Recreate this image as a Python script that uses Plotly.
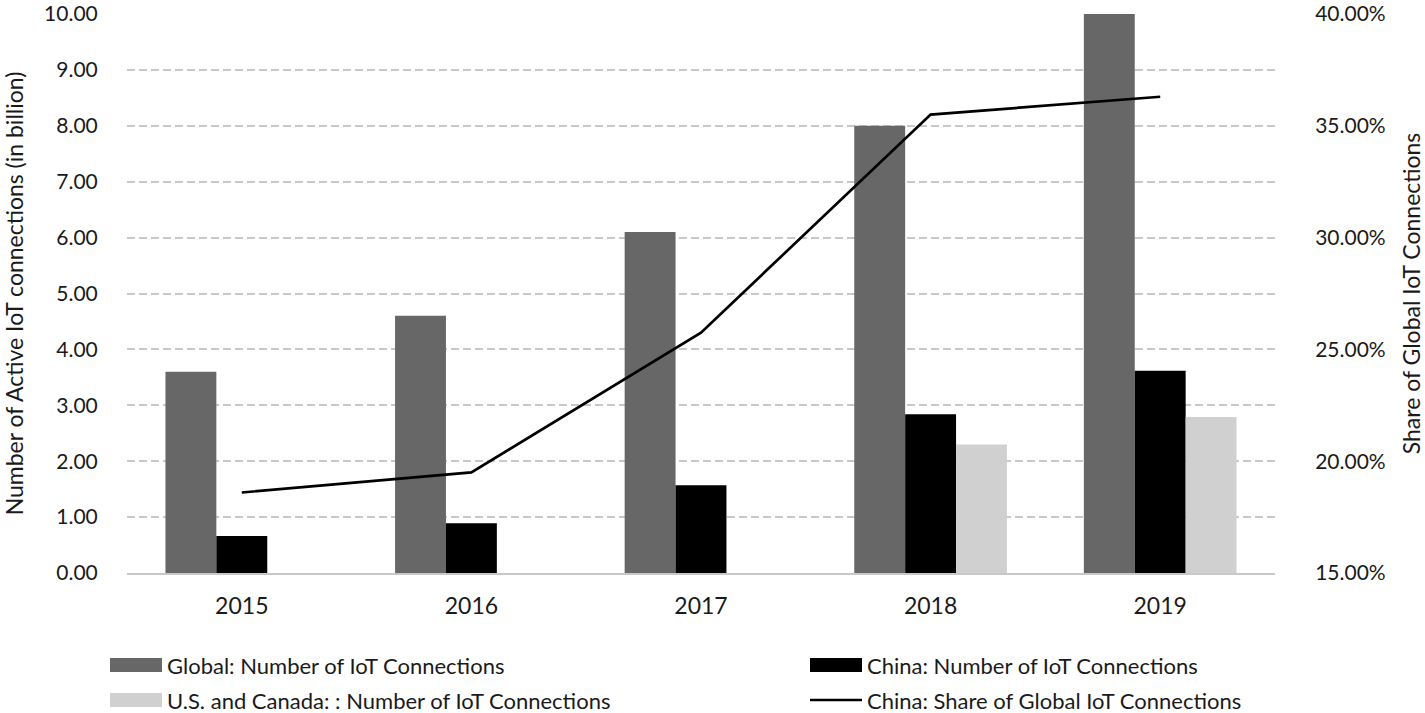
import plotly.graph_objects as go

years = ["2015", "2016", "2017", "2018", "2019"]
global_conn = [3.6, 4.6, 6.1, 8.0, 10.0]
china_conn = [0.66, 0.89, 1.57, 2.84, 3.62]
us_canada_conn = [None, None, None, 2.30, 2.79]
china_share = [18.6, 19.5, 25.75, 35.5, 36.3]

names = ["Global: Number of IoT Connections",
         "China: Number of IoT Connections",
         "U.S. and Canada: : Number of IoT Connections",
         "China: Share of Global IoT Connections"]
colors = ["#676767", "#000000", "#d0d0d0", "#000000"]

FONT = "Lato"
FS = 23
FS_LEG = 22
FS_Y = 21
TXT = "#1a1a1a"

W, H = 1425, 713
ML, MR, MT, MB = 127, 150, 14, 140
PW, PH = W - ML - MR, H - MT - MB

fig = go.Figure()
fig.add_trace(go.Bar(x=years, y=global_conn, name=names[0],
                     marker=dict(color=colors[0], line=dict(width=0))))
fig.add_trace(go.Bar(x=years, y=china_conn, name=names[1],
                     marker=dict(color=colors[1], line=dict(width=0))))
fig.add_trace(go.Bar(x=years, y=us_canada_conn, name=names[2],
                     marker=dict(color=colors[2], line=dict(width=0))))
fig.add_trace(go.Scatter(x=years, y=china_share, name=names[3],
                         mode="lines", line=dict(color=colors[3], width=2.7), yaxis="y2"))

# legend drawn as keys + labels below the plot (two columns)
def px_x(px):
    return (px - ML) / PW

def px_y(py):
    return (H - MB - py) / PH

legend_pos = [(110, 665), (810, 665), (110, 700), (810, 700)]
shapes = []
annotations = []
for i, (name, col) in enumerate(zip(names, colors)):
    lx, ly = legend_pos[i]
    if i < 3:
        shapes.append(dict(type="rect", xref="paper", yref="paper",
                           x0=px_x(lx), x1=px_x(lx + 52), y0=px_y(ly + 7), y1=px_y(ly - 7),
                           fillcolor=col, line=dict(width=0)))
    else:
        shapes.append(dict(type="line", xref="paper", yref="paper",
                           x0=px_x(lx), x1=px_x(lx + 52), y0=px_y(ly), y1=px_y(ly),
                           line=dict(color=col, width=2.5)))
    annotations.append(dict(text=name, xref="paper", yref="paper",
                            x=px_x(lx + 55), y=px_y(ly), xanchor="left", yanchor="middle",
                            showarrow=False, font=dict(family=FONT, size=FS_LEG, color=TXT)))

fig.update_layout(
    width=W, height=H,
    margin=dict(l=ML, r=MR, t=MT, b=MB),
    paper_bgcolor="white", plot_bgcolor="white",
    font=dict(family=FONT, size=FS, color=TXT),
    barmode="group", bargap=0.335, bargroupgap=0,
    showlegend=False,
    shapes=shapes, annotations=annotations,
    xaxis=dict(showline=True, linecolor="#c8c8c8", linewidth=2, showgrid=False,
               ticks="outside", ticklen=11, tickcolor="rgba(0,0,0,0)",
               tickfont=dict(size=FS), automargin=False),
    yaxis=dict(range=[0, 10], dtick=1, tickformat=".2f", showgrid=True,
               gridcolor="#c8c8c8", griddash="8px,4px", gridwidth=1.5, zeroline=False,
               title=dict(text="Number of Active IoT connections (in billion)", standoff=30,
                          font=dict(size=FS)),
               ticks="outside", ticklen=24, tickcolor="rgba(0,0,0,0)",
               ticklabeloverflow="allow", tickfont=dict(size=FS_Y), automargin=False),
    yaxis2=dict(range=[15, 40], dtick=5, overlaying="y", side="right", showgrid=False,
                zeroline=False, ticksuffix="%", tickformat=".2f",
                title=dict(text="Share of Global IoT Connections", standoff=21,
                           font=dict(size=FS)),
                ticks="outside", ticklen=35, tickcolor="rgba(0,0,0,0)",
                ticklabeloverflow="allow", tickfont=dict(size=FS_Y), automargin=False),
)

fig.write_html("out.html", config={"displayModeBar": False},
               post_script="document.body.style.margin='0';")
